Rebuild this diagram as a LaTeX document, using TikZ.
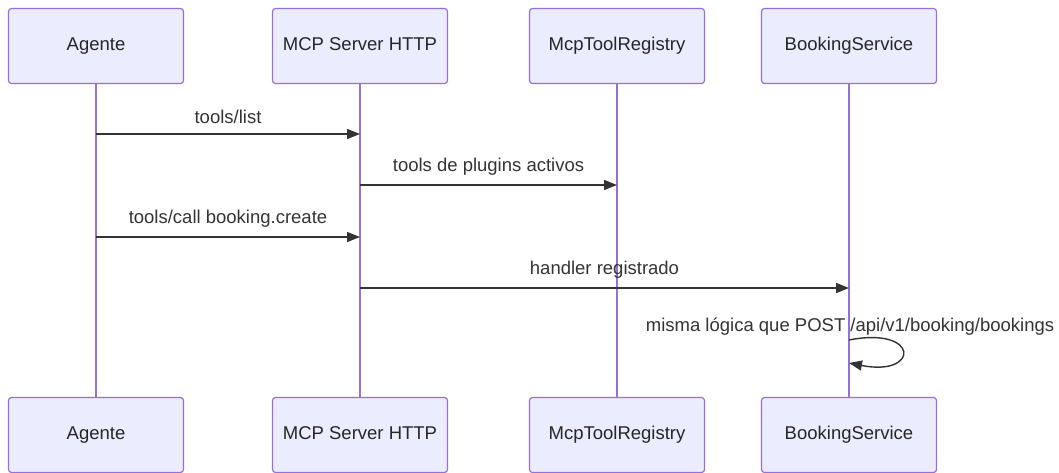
\documentclass[tikz,border=0pt]{standalone}
\usepackage{fontspec}
\setmainfont{Liberation Sans}
\usetikzlibrary{arrows.meta}
\definecolor{actorfill}{HTML}{ECECFF}
\definecolor{actorline}{HTML}{9370DB}
\definecolor{msgline}{HTML}{333333}
\begin{document}
\begin{tikzpicture}[
        x=1pt, y=-1pt,
        actor/.style={rectangle, rounded corners=3pt, draw=actorline, fill=actorfill, line width=1.2pt,
            minimum width=175pt, minimum height=75pt, text height=12pt, text depth=3pt,
            font=\fontsize{18.5}{21}\selectfont, text=black!85},
        lifeline/.style={draw=actorline, line width=1.5pt},
        msg/.style={draw=msgline, line width=1.4pt, -{Triangle[length=13pt,width=10pt]}},
        msglabel/.style={font=\fontsize{18.5}{21}\selectfont, text=black!80, anchor=base}
    ]
    \useasboundingbox (0,0) rectangle (1059,472);
    % participants, top and bottom
    \node[actor] (agt) at (96,46) {Agente};
    \node[actor] (mcp) at (360,46) {MCP Server HTTP};
    \node[actor] (reg) at (617,46) {McpToolRegistry};
    \node[actor] (bks) at (849,46) {BookingService};
    \node[actor] (agtb) at (96,435) {Agente};
    \node[actor] (mcpb) at (360,435) {MCP Server HTTP};
    \node[actor] (regb) at (617,435) {McpToolRegistry};
    \node[actor] (bksb) at (849,435) {BookingService};
    % lifelines
    \foreach \a in {agt,mcp,reg,bks}
        \draw[lifeline] (\a.south) -- (\a b.north);
    % messages
    \coordinate (m1) at (0,134);
    \coordinate (m2) at (0,185);
    \coordinate (m3) at (0,237);
    \coordinate (m4) at (0,288);
    \draw[msg] (agt.south |- m1) -- (mcp.south |- m1) node[msglabel, midway, above=6pt] {tools/list};
    \draw[msg] (mcp.south |- m2) -- (reg.south |- m2) node[msglabel, midway, above=6pt] {tools de plugins activos};
    \draw[msg] (agt.south |- m3) -- (mcp.south |- m3) node[msglabel, midway, above=6pt] {tools/call booking.create};
    \draw[msg] (mcp.south |- m4) -- (bks.south |- m4) node[msglabel, midway, above=6pt] {handler registrado};
    % self call
    \coordinate (s1) at (0,340);
    \coordinate (s2) at (0,363);
    \node[msglabel] (selflbl) at (850,331) {misma lógica que POST /api/v1/booking/bookings};
    \draw[msg] (bks.south |- s1) .. controls (920,326) and (920,377) .. (bks.south |- s2);
\end{tikzpicture}
\end{document}
